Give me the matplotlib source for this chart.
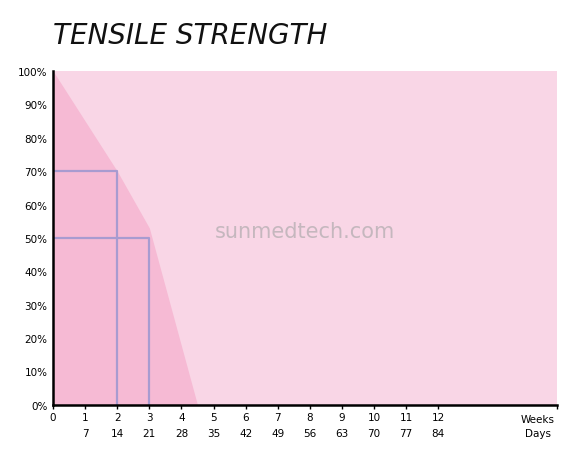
import matplotlib.pyplot as plt
import matplotlib.ticker as ticker

weeks = list(range(13))
days = [w * 7 for w in weeks]
strength_x = [0, 2, 3, 4.5]
strength_y = [100, 70, 53, 0]
marks_x = [2, 3]
marks_y = [70, 50]
yticks = list(range(0, 101, 10))

fig = plt.figure(figsize=(5.77, 4.56), dpi=100)
ax = fig.add_axes([0.092, 0.110, 0.873, 0.732])
ax.set_xlim(0, 15.7)
ax.set_ylim(0, 100)

ax.set_facecolor('#f9d6e6')
ax.fill_between(strength_x, strength_y, 0, color='#f6bad4', lw=0)

for mx, my in zip(marks_x, marks_y):
    ax.plot([0, mx, mx], [my, my, 0], color='#a89bd0', lw=1.6)

for s in ['top', 'right']:
    ax.spines[s].set_visible(False)
ax.spines['left'].set_linewidth(1.8)
ax.spines['bottom'].set_linewidth(1.8)

ax.yaxis.set_major_locator(ticker.FixedLocator(yticks))
ax.set_yticklabels(['%d%%' % v for v in yticks], fontsize=7.5)
ax.set_xticks(weeks + [15.7])
ax.set_xticklabels([str(w) for w in weeks] + [''], fontsize=7.5)
ax.tick_params(axis='y', length=0, pad=4)
ax.tick_params(axis='x', length=3, width=1, pad=2)

for w, d in zip(weeks[1:], days[1:]):
    ax.text(w, -8.5, str(d), ha='center', va='center', fontsize=7.5)
ax.text(15.1, -4.3, 'Weeks', ha='center', va='center', fontsize=7.5)
ax.text(15.1, -8.5, 'Days', ha='center', va='center', fontsize=7.5)

ax.text(0.5, 0.52, 'sunmedtech.com', transform=ax.transAxes, ha='center',
        va='center', fontsize=15, color='#b8b0b4', alpha=0.8)

fig.text(0.092, 0.92, 'TENSILE STRENGTH', fontsize=20, style='italic',
         ha='left', va='center', color='#111111')

fig.savefig('out.png', dpi=100)
